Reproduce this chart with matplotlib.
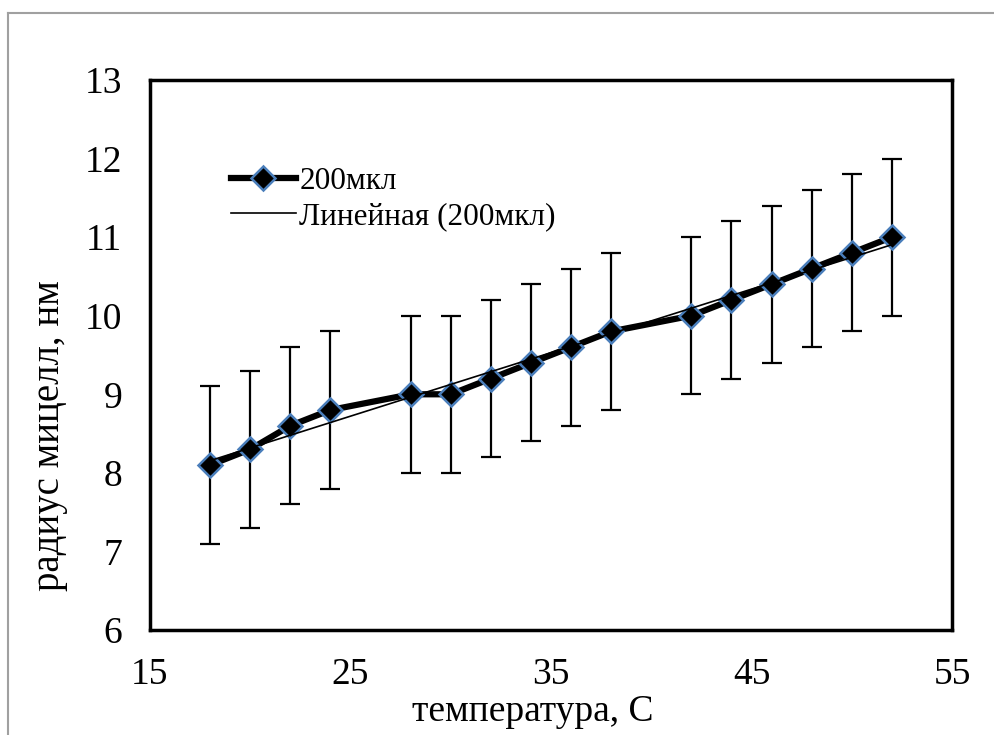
import numpy as np
import matplotlib.pyplot as plt
from matplotlib.lines import Line2D

plt.rcParams['font.family'] = ['Liberation Serif', 'DejaVu Serif']

# data
temp = [18, 20, 22, 24, 28, 30, 32, 34, 36, 38, 42, 44, 46, 48, 50, 52]
radius = [8.1, 8.3, 8.6, 8.8, 9.0, 9.0, 9.2, 9.4, 9.6, 9.8, 10.0, 10.2, 10.4, 10.6, 10.8, 11.0]
err = [1.0] * len(temp)

x_ticks = [15, 25, 35, 45, 55]
y_ticks = [6, 7, 8, 9, 10, 11, 12, 13]

fig = plt.figure(figsize=(9.94, 7.35), dpi=100)
ax = fig.add_axes([150 / 994, 1 - 630 / 735, 802 / 994, 550 / 735])

ax.errorbar(temp, radius, yerr=err, fmt='none', ecolor='black',
            elinewidth=1.6, capsize=7, capthick=1.6, zorder=2)

# linear trendline (as excel does)
k, b = np.polyfit(temp, radius, 1)
xt = np.array([temp[0], temp[-1]])
ax.plot(xt, k * xt + b, color='black', lw=1.2, zorder=4,
        label='Линейная (200мкл)')

ax.plot(temp, radius, color='black', lw=4.5, marker='D', markersize=12,
        markerfacecolor='black', markeredgecolor='#4a7ebb', markeredgewidth=1.8,
        zorder=3, label='200мкл')

ax.set_xlim(15, 55)
ax.set_ylim(6, 13)
ax.set_xticks(x_ticks)
ax.set_yticks(y_ticks)
ax.tick_params(length=0, labelsize=27)
ax.tick_params(axis='x', pad=20)
ax.tick_params(axis='y', pad=20)
for s in ax.spines.values():
    s.set_linewidth(2.5)
    s.set_color('black')

ax.set_xlabel('температура, С', fontsize=27)
ax.xaxis.set_label_coords(0.4776, -0.118)
ax.set_ylabel('радиус мицелл, нм', fontsize=28)
ax.yaxis.set_label_coords(-0.102, 0.353)

h, l = ax.get_legend_handles_labels()
leg = ax.legend(h[::-1], l[::-1], loc='upper left', bbox_to_anchor=(0.085, 0.865),
                frameon=False, fontsize=22.5, handlelength=2.1, handletextpad=0.1,
                borderaxespad=0, labelspacing=0.2)

# grey outer frame (left and top only visible)
fig.add_artist(Line2D([8 / 994, 8 / 994], [0, 1 - 13 / 735], color='#a0a0a0', lw=1.5))
fig.add_artist(Line2D([8 / 994, 1], [1 - 13 / 735, 1 - 13 / 735], color='#a0a0a0', lw=1.5))

fig.savefig('out.png', dpi=100)
